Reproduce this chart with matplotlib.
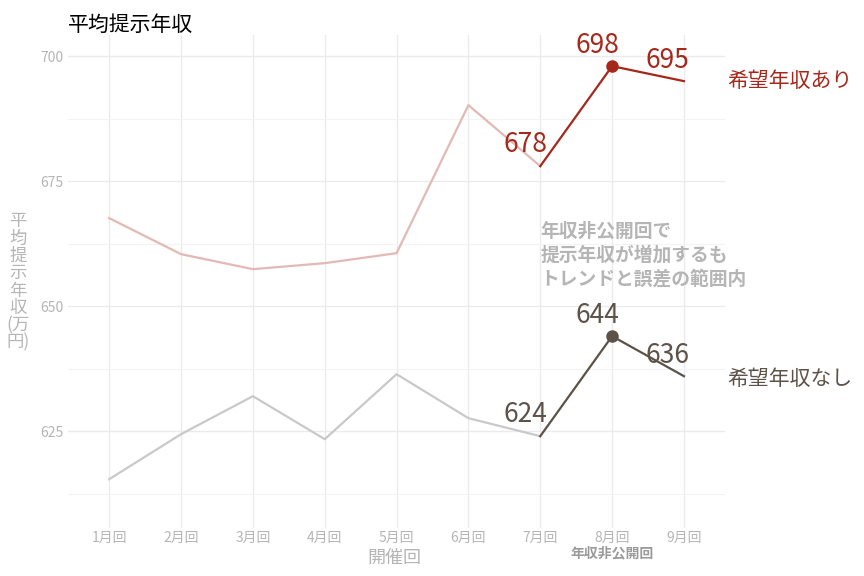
import matplotlib
matplotlib.use("Agg")
import matplotlib.pyplot as plt

plt.rcParams['font.family'] = ['Noto Sans CJK JP', 'DejaVu Sans']

categories = ["1月回","2月回","3月回","4月回","5月回","6月回","7月回","8月回","9月回"]
with_hope = [667.6, 660.4, 657.4, 658.6, 660.6, 690.2, 678, 698, 695]
without_hope = [615.4, 624.4, 632.0, 623.4, 636.4, 627.6, 624, 644, 636]

red = "#a5281b"; red_l = "#e2b9b5"
dark = "#5c5248"; dark_l = "#c9c9c9"
grey = "#b5b5b5"

fig = plt.figure(figsize=(8.64, 5.76), dpi=100)
ax = fig.add_axes([0.079, 0.083, 0.76, 0.856])
x = list(range(1, 10))
ax.set_xlim(0.43, 9.57)
ax.set_ylim(605.6, 704.2)
for s in ax.spines.values():
    s.set_visible(False)
ax.set_xticks(x)
ax.set_xticklabels(categories, color=grey, fontsize=10)
ax.set_yticks([625, 650, 675, 700])
ax.set_yticks([612.5, 637.5, 662.5, 687.5], minor=True)
ax.tick_params(axis='y', colors=grey, labelsize=10, length=0, which='both')
ax.tick_params(axis='x', length=0, pad=2)
ax.grid(True, which='major', color="#ebebeb", lw=1)
ax.grid(True, which='minor', axis='y', color="#f3f3f3", lw=0.8)
ax.set_axisbelow(True)

ax.plot(x[:7], with_hope[:7], color=red_l, lw=1.6)
ax.plot(x[6:], with_hope[6:], color=red, lw=1.6)
ax.plot(x[:7], without_hope[:7], color=dark_l, lw=1.6)
ax.plot(x[6:], without_hope[6:], color=dark, lw=1.6)
ax.plot([x[7]], [with_hope[7]], 'o', color=red, ms=8)
ax.plot([x[7]], [without_hope[7]], 'o', color=dark, ms=8)

for i, dx, dy in [(6, -0.21, 4.4), (7, -0.2, 4.2), (8, -0.23, 4.2)]:
    ax.text(x[i] + dx, with_hope[i] + dy, f"{with_hope[i]:.0f}", color=red, fontsize=19, ha='center', va='center')
    ax.text(x[i] + dx, without_hope[i] + dy, f"{without_hope[i]:.0f}", color=dark, fontsize=19, ha='center', va='center')

ax.text(9.6, 695, "希望年収あり", color=red, fontsize=15, va='center', clip_on=False)
ax.text(9.6, 635.5, "希望年収なし", color=dark, fontsize=15, va='center', clip_on=False)
ax.text(7.0, 660.2, "年収非公開回で\n提示年収が増加するも\nトレンドと誤差の範囲内",
        color=grey, fontsize=13.5, fontweight='bold', va='center', ha='left', linespacing=1.3)

fig.text(0.079, 0.975, "平均提示年収", fontsize=15, va='top', ha='left')
fig.text(0.457, 0.031, "開催回", color=grey, fontsize=13, ha='center', va='center')
fig.text(0.708, 0.040, "年収非公開回", color="#9a9a9a", fontsize=10, fontweight='bold', ha='center', va='center')
fig.text(0.021, 0.51, "平\n均\n提\n示\n年\n収\n(万\n円)", color=grey, fontsize=12.5,
         ha='center', va='center', linespacing=0.95)

fig.savefig("out.png", dpi=100)
